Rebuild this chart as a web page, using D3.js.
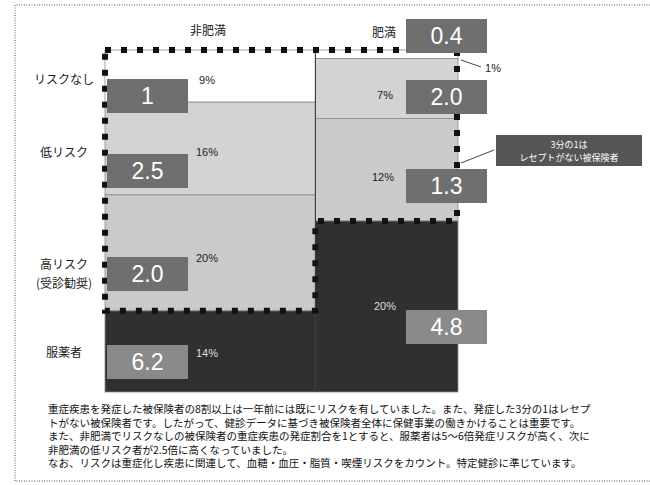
<!DOCTYPE html>
<html>
<head>
<meta charset="utf-8">
<script src="https://cdn.jsdelivr.net/npm/d3@7/dist/d3.min.js"></script>
<style>
  body { margin: 0; background: #fff; }
  text { font-family: "Noto Sans CJK JP", "Noto Sans", sans-serif; }
  .num { font-family: "Liberation Sans", Arial, sans-serif; }
</style>
</head>
<body>
<svg id="chart" width="650" height="485"></svg>
<script>
// 区分と行
var groups = ["非肥満", "肥満"];
var rows = ["リスクなし", "低リスク", "高リスク", "服薬者"];
// 各区分の割合(%)
var nonObesePct = [9, 16, 20, 14];
var obesePct = [1, 7, 12, 20];
// 発症リスク比
var nonObeseRatio = ["1", "2.5", "2.0", "6.2"];
var obeseRatio = ["0.4", "2.0", "1.3", "4.8"];

var notes = [
    "重症疾患を発症した被保険者の8割以上は一年前には既にリスクを有していました。また、発症した3分の1はレセプ",
    "トがない被保険者です。したがって、健診データに基づき被保険者全体に保健事業の働きかけることは重要です。",
    "また、非肥満でリスクなしの被保険者の重症疾患の発症割合を1とすると、服薬者は5～6倍発症リスクが高く、次に",
    "非肥満の低リスク者が2.5倍に高くなっていました。",
    "なお、リスクは重症化し疾患に関連して、血糖・血圧・脂質・喫煙リスクをカウント。特定健診に準じています。"
];

var fills = ["#ffffff", "#d3d3d3", "#cacaca", "#303030"];

var svg = d3.select("#chart");

// outer dotted frame
svg.append("path")
    .attr("d", "M650,5 L15,5 L15,481 L650,481")
    .attr("fill", "none")
    .attr("stroke", "#555")
    .attr("stroke-width", 1)
    .attr("stroke-dasharray", "1,1.5");

var nonTotal = d3.sum(nonObesePct);
var obTotal = d3.sum(obesePct);

var x = d3.scaleLinear().domain([0, nonTotal + obTotal]).range([105, 458]);
var yNon = d3.scaleLinear().domain([0, nonTotal]).range([50, 392]);
var yOb = d3.scaleLinear().domain([0, obTotal]).range([50, 392]);

function stack(vals) {
    var acc = 0;
    return vals.map(function (v, i) {
        var d = { i: i, v: v, y0: acc, y1: acc + v };
        acc += v;
        return d;
    });
}

var cols = [
    { x0: 0, x1: nonTotal, y: yNon, cells: stack(nonObesePct) },
    { x0: nonTotal, x1: nonTotal + obTotal, y: yOb, cells: stack(obesePct) }
];

cols.forEach(function (c) {
    svg.append("g").selectAll("rect")
        .data(c.cells)
        .enter()
        .append("rect")
        .attr("x", x(c.x0))
        .attr("width", x(c.x1) - x(c.x0))
        .attr("y", function (d) { return c.y(d.y0); })
        .attr("height", function (d) { return c.y(d.y1) - c.y(d.y0); })
        .attr("fill", function (d) { return fills[d.i]; })
        .attr("stroke", "#8a8a8a")
        .attr("stroke-width", 0.8);
});

// divider between columns
svg.append("line")
    .attr("x1", x(nonTotal)).attr("x2", x(nonTotal))
    .attr("y1", yOb(0)).attr("y2", yOb(obTotal))
    .attr("stroke", "#333").attr("stroke-width", 1);

// thick dotted outline around non-medicated cells
var xl = x(0), xm = x(nonTotal), xr = x(nonTotal + obTotal) - 1;
var yt = yNon(0);
var yObMed = yOb(obTotal - obesePct[3]);
var yNonMed = yNon(nonTotal - nonObesePct[3]);
svg.append("path")
    .attr("d", "M" + xl + "," + yt + " L" + xr + "," + yt + " L" + xr + "," + yObMed +
        " L" + xm + "," + yObMed + " L" + xm + "," + yNonMed + " L" + xl + "," + yNonMed + " Z")
    .attr("fill", "none")
    .attr("stroke", "#111")
    .attr("stroke-width", 6)
    .attr("stroke-dasharray", "6,10");

// column headers
svg.append("text").attr("x", 208).attr("y", 35).attr("text-anchor", "middle")
    .attr("font-size", 12).attr("fill", "#222").text(groups[0]);
svg.append("text").attr("x", 384).attr("y", 37).attr("text-anchor", "middle")
    .attr("font-size", 12).attr("fill", "#222").text(groups[1]);

// row labels
var rowLabelY = [84, 157, 269, 357];
rows.forEach(function (r, i) {
    svg.append("text").attr("x", 64).attr("y", rowLabelY[i]).attr("text-anchor", "middle")
        .attr("font-size", 12).attr("fill", "#222").text(r);
});
svg.append("text").attr("x", 64).attr("y", 288).attr("text-anchor", "middle")
    .attr("font-size", 12).attr("fill", "#222").text("(受診勧奨)");

// percent labels
var nonPctY = [84, 156, 262, 357];
nonObesePct.forEach(function (v, i) {
    svg.append("text").attr("class", "num").attr("x", 207).attr("y", nonPctY[i])
        .attr("text-anchor", "middle").attr("font-size", 11)
        .attr("fill", i === 3 ? "#ddd" : "#222").text(v + "%");
});
var obPctPos = [[493, 72], [385, 99], [383, 181], [385, 310]];
obesePct.forEach(function (v, i) {
    svg.append("text").attr("class", "num").attr("x", obPctPos[i][0]).attr("y", obPctPos[i][1])
        .attr("text-anchor", "middle").attr("font-size", 11)
        .attr("fill", i === 3 ? "#ddd" : "#222").text(v + "%");
});
// leader for 1%
svg.append("line").attr("x1", 461).attr("y1", 60).attr("x2", 481).attr("y2", 67)
    .attr("stroke", "#444").attr("stroke-width", 1);

// ratio boxes
function ratioBox(x0, y0, label, fill) {
    svg.append("rect").attr("x", x0).attr("y", y0).attr("width", 81).attr("height", 34)
        .attr("fill", fill);
    svg.append("text").attr("class", "num").attr("x", x0 + 40.5).attr("y", y0 + 25)
        .attr("text-anchor", "middle").attr("font-size", 23).attr("fill", "#fff")
        .text(label);
}
var nonBoxY = [79, 154, 257, 345];
var obBoxY = [19, 80, 169, 310];
nonObeseRatio.forEach(function (v, i) {
    ratioBox(107, nonBoxY[i], v, i === 3 ? "#8a8a8a" : "#6f6f6f");
});
obeseRatio.forEach(function (v, i) {
    ratioBox(406, obBoxY[i], v, i === 3 ? "#8a8a8a" : "#6f6f6f");
});

// callout
svg.append("line").attr("x1", 461).attr("y1", 163).attr("x2", 494).attr("y2", 150)
    .attr("stroke", "#444").attr("stroke-width", 1);
svg.append("rect").attr("x", 496).attr("y", 135).attr("width", 146).attr("height", 31)
    .attr("fill", "#555");
svg.append("text").attr("x", 569).attr("y", 148).attr("text-anchor", "middle")
    .attr("font-size", 9).attr("fill", "#fff").text("3分の1は");
svg.append("text").attr("x", 569).attr("y", 161).attr("text-anchor", "middle")
    .attr("font-size", 9).attr("fill", "#fff").text("レセプトがない被保険者");

// notes
notes.forEach(function (t, i) {
    svg.append("text").attr("x", 48).attr("y", 413 + i * 13.5)
        .attr("font-size", 10.5).attr("fill", "#111").text(t);
});
</script>
</body>
</html>
